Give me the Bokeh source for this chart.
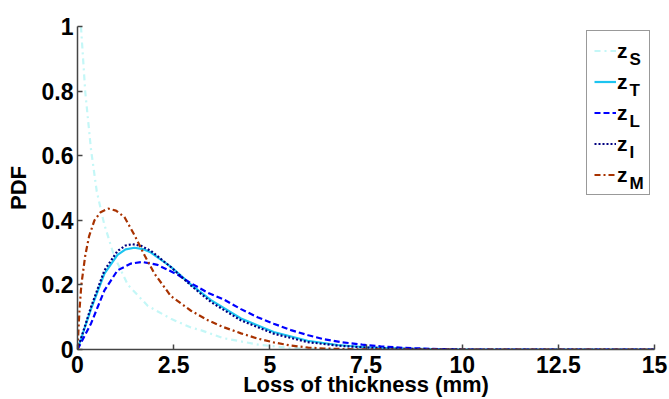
from bokeh.plotting import figure
from bokeh.models import (Range1d, FixedTicker, NumeralTickFormatter, Legend,
                          LegendItem, Label)
from bokeh.embed import file_html
from bokeh.resources import INLINE

# ---- data ----
zS_x = [0.09, 0.2, 0.35, 0.5, 0.69, 0.95, 1.31, 1.83, 2.43, 2.95, 3.2, 3.8, 4.7, 5.5, 6.5, 8.0, 15.0]
zS_y = [1.0, 0.80, 0.62, 0.49, 0.39, 0.29, 0.20, 0.135, 0.095, 0.068, 0.06, 0.035, 0.015, 0.005, 0.001, 0.0, 0.0]

zT_x = [0, 0.35, 0.7, 1.04, 1.25, 1.48, 1.7, 1.91, 2.43, 2.95, 3.47, 4.25, 5.1, 5.98, 6.76, 7.5, 8.5, 10, 15]
zT_y = [0, 0.125, 0.235, 0.293, 0.310, 0.315, 0.311, 0.300, 0.256, 0.201, 0.153, 0.096, 0.054, 0.027, 0.014, 0.007, 0.003, 0, 0]

zL_x = [0, 0.35, 0.7, 1.04, 1.39, 1.69, 2.08, 2.6, 2.95, 3.4, 3.8, 4.25, 4.68, 5.1, 5.55, 6.0, 6.4, 6.84, 7.4, 7.88, 8.5, 9.2, 10, 15]
zL_y = [0, 0.08, 0.183, 0.245, 0.266, 0.271, 0.262, 0.232, 0.205, 0.175, 0.155, 0.125, 0.10, 0.08, 0.06, 0.044, 0.032, 0.023, 0.015, 0.01, 0.005, 0.002, 0, 0]

zI_x = [0, 0.35, 0.7, 1.04, 1.25, 1.43, 1.65, 1.91, 2.43, 2.95, 3.47, 4.25, 5.1, 5.98, 6.76, 7.5, 8.5, 10, 15]
zI_y = [0, 0.131, 0.245, 0.305, 0.322, 0.326, 0.321, 0.305, 0.255, 0.198, 0.147, 0.09, 0.049, 0.023, 0.012, 0.006, 0.002, 0, 0]

zM_x = [0, 0.05, 0.1, 0.2, 0.3, 0.44, 0.6, 0.8, 1.0, 1.22, 1.5, 1.75, 2.0, 2.43, 2.95, 3.4, 3.8, 4.25, 4.68, 5.1, 5.55, 6.0, 6.4, 7.0, 8.0, 15]
zM_y = [0, 0.12, 0.2, 0.29, 0.35, 0.40, 0.425, 0.436, 0.43, 0.41, 0.35, 0.29, 0.235, 0.165, 0.12, 0.09, 0.069, 0.05, 0.034, 0.022, 0.012, 0.006, 0.003, 0.001, 0, 0]

series_names = ["S", "T", "L", "I", "M"]
x_ticks = [0, 2.5, 5, 7.5, 10, 12.5, 15]
y_ticks = [0, 0.2, 0.4, 0.6, 0.8, 1.0]

FONT = "Liberation Sans"
X0, X1, Y0, Y1 = 0, 15, 0, 1

p = figure(width=669, height=399, output_backend="svg", toolbar_location=None,
           x_range=Range1d(X0, X1), y_range=Range1d(Y0, Y1),
           min_border_left=77, min_border_right=15, min_border_top=26,
           min_border_bottom=50)
p.outline_line_color = None
p.grid.visible = False
p.background_fill_color = "white"

styles = [
    (zS_x, zS_y, "#c4f7f7", "dashdot"),
    (zT_x, zT_y, "#1cc4f0", "solid"),
    (zL_x, zL_y, "#0000ff", "6 3"),
    (zI_x, zI_y, "#000080", "2 2"),
    (zM_x, zM_y, "#a83200", "6 3 2 3"),
]
renderers = []
for xs, ys, col, dash in styles:
    r = p.line(xs, ys, line_color=col, line_width=2.2, line_dash=dash)
    renderers.append(r)

for ax in (p.xaxis[0], p.yaxis[0]):
    ax.axis_line_color = "#444444"
    ax.axis_line_width = 1.5
    ax.major_tick_line_color = "#444444"
    ax.major_tick_line_width = 1.5
    ax.major_tick_in = 5
    ax.major_tick_out = 0
    ax.minor_tick_line_color = None
    ax.major_label_text_font = FONT
    ax.major_label_text_font_size = "23px"
    ax.major_label_text_font_style = "bold"
    ax.major_label_text_color = "black"
    ax.axis_label_text_font = FONT
    ax.axis_label_text_font_size = "22px"
    ax.axis_label_text_font_style = "bold"
    ax.axis_label_text_color = "black"
    ax.formatter = NumeralTickFormatter(format="0.[0]")

p.xaxis.ticker = FixedTicker(ticks=x_ticks)
p.yaxis.ticker = FixedTicker(ticks=y_ticks)
p.xaxis.axis_label = "Loss of thickness (mm)"
p.yaxis.axis_label = "PDF"
p.xaxis.major_label_standoff = 6
p.xaxis.axis_label_standoff = -4
p.yaxis.major_label_standoff = 4
p.yaxis.axis_label_standoff = 8

# legend
PAD, ROWH, SPACING, MARGIN = 7, 25, 6, 4
GW, STANDOFF, LW = 22, 1, 25
items = [LegendItem(label="z", renderers=[r]) for r in renderers]
legend = Legend(items=items, location="top_right", margin=MARGIN, padding=PAD,
                spacing=SPACING, glyph_width=GW, glyph_height=ROWH,
                label_height=ROWH, label_width=LW, label_standoff=STANDOFF,
                label_text_font=FONT, label_text_font_size="21px",
                label_text_font_style="bold", label_text_baseline="alphabetic",
                label_text_color="black",
                border_line_color="#333333", border_line_width=1.5,
                background_fill_alpha=0.0)
p.add_layout(legend)

# subscripts of the legend labels (pixel offsets converted through the ranges)
frame_w = 669 - 77 - 15
frame_h = 399 - 26 - 50
leg_w = PAD * 2 + GW + STANDOFF + LW
leg_left = frame_w - MARGIN - leg_w
sub_px = leg_left + PAD + GW + STANDOFF + 11
for i, name in enumerate(series_names):
    center_from_top = MARGIN + PAD + ROWH / 2 + i * (ROWH + SPACING)
    sub_py = frame_h - (center_from_top + 9)
    p.add_layout(Label(x=X0 + sub_px * (X1 - X0) / frame_w,
                       y=Y0 + sub_py * (Y1 - Y0) / frame_h,
                       text=name, text_font=FONT, text_font_size="17px",
                       text_font_style="bold", text_baseline="alphabetic",
                       text_color="black"))

open("out.html", "w").write(file_html(p, INLINE))
